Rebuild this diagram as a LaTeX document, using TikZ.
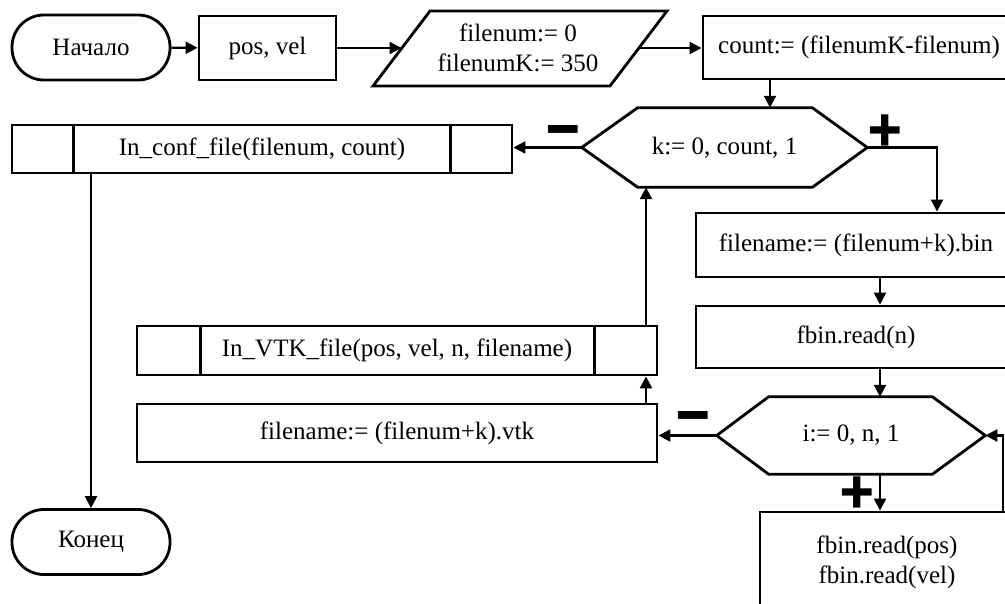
\documentclass[tikz,border=0pt]{standalone}
\usepackage{fontspec}
\setmainfont{Liberation Serif}
\newfontfamily\signfont{Noto Emoji}
\usetikzlibrary{arrows.meta,calc}

\begin{document}
\begin{tikzpicture}[x=0.025cm, y=-0.025cm,
    every node/.style={font=\fontsize{17.8}{21.3}\selectfont, inner sep=0pt},
    box/.style={draw, line width=2pt, minimum height=1.6cm},
    term/.style={box, rounded corners=0.8cm, minimum width=3.95cm, minimum height=1.625cm},
    shapeline/.style={line width=2pt, line join=miter},
    arr/.style={line width=1.7pt, -{Triangle[length=8.5pt, width=8.5pt]}},
    signlabel/.style={font=\signfont\fontsize{23}{23}\selectfont}]
    \path[use as bounding box, clip] (0,0) rectangle (1005,604);

    % Верхний ряд: начало, ввод, присваивания
    \node[term] (start) at (91,47.5) {Начало};
    \node[box, minimum width=3.425cm] (posvel) at (267.5,48) {pos, vel};
    \node[align=center] (init) at (518,48) {filenum:= 0\\filenumK:= 350};
    \draw[shapeline] ($(init)+(-145,38)$) -- ($(init)+(-88,-37)$) -- ($(init)+(149,-37)$)
        -- ($(init)+(92,38)$) -- cycle;
    \coordinate (init-w) at ($(init)+(-116.5,0)$);
    \coordinate (init-e) at ($(init)+(120.5,0)$);
    \node[box, minimum width=7.8cm, minimum height=1.575cm] (count) at (859,47.5) {count:= (filenumK-filenum)};

    % Цикл по k
    \node[minimum width=7.125cm, minimum height=1.975cm] (loopk) at (724.5,147.5) {k:= 0, count, 1};
    \draw[shapeline] (loopk.west) -- ($(loopk.north west)+(56,0)$) -- ($(loopk.north east)+(-55,0)$)
        -- (loopk.east) -- ($(loopk.south east)+(-55,0)$) -- ($(loopk.south west)+(56,0)$) -- cycle;

    % Подпрограмма записи конфигурации и конец
    \node[box, minimum width=12.5cm, minimum height=1.2cm] (inconf) at (262,149) {In\_conf\_file(filenum, count)};
    \draw[shapeline] ($(inconf.north west)+(63,0)$) -- ($(inconf.south west)+(63,0)$)
        ($(inconf.north east)+(-63,0)$) -- ($(inconf.south east)+(-63,0)$);
    \node[term] (stop) at (91,542) {Конец};

    % Тело цикла по k: чтение бинарного файла
    \node[box, minimum width=8cm] (bin) at (856,245) {filename:= (filenum+k).bin};
    \node[box, minimum width=8cm, minimum height=1.55cm] (readn) at (856,337) {fbin.read(n)};

    % Цикл по i
    \node[minimum width=6.7cm, minimum height=1.925cm] (loopi) at (851,435.5) {i:= 0, n, 1};
    \draw[shapeline] (loopi.west) -- ($(loopi.north west)+(52,0)$) -- ($(loopi.north east)+(-53,0)$)
        -- (loopi.east) -- ($(loopi.south east)+(-53,0)$) -- ($(loopi.south west)+(52,0)$) -- cycle;
    \node[box, minimum width=6.35cm, minimum height=2.5cm, align=center] (readpv) at (887,562)
        {fbin.read(pos)\\fbin.read(vel)};

    % Запись VTK
    \node[box, minimum width=13cm, minimum height=1.45cm] (vtk) at (397,433) {filename:= (filenum+k).vtk};
    \node[box, minimum width=13cm, minimum height=1.225cm] (invtk) at (397,350.5) {In\_VTK\_file(pos, vel, n, filename)};
    \draw[shapeline] ($(invtk.north west)+(65,0)$) -- ($(invtk.south west)+(65,0)$)
        ($(invtk.north east)+(-64,0)$) -- ($(invtk.south east)+(-64,0)$);

    % Метки ветвлений
    \node[signlabel] (kminus) at (563,133) {➖};
    \node[signlabel] (kplus) at (885,130) {➕};
    \node[signlabel] (iminus) at (693,419) {➖};
    \node[signlabel] (iplus) at (857,492) {➕};

    % Связи
    \coordinate (kin) at (770,0);
    \coordinate (col) at (880,0);
    \coordinate (ret) at (1003,0);
    \coordinate (back) at (646,0);
    \draw[arr] (start) -- (posvel);
    \draw[arr] (posvel) -- (init-w);
    \draw[arr] (init-e) -- (init-e -| count.west);
    \draw[arr] (kin |- count.south) -- (kin |- loopk.north);
    \draw[arr] (loopk.west) -- (loopk.west -| inconf.east);
    \draw[arr] (loopk.east) -| ($(bin.north)+(81,0)$);
    \draw[arr] (col |- bin.south) -- (col |- readn.north);
    \draw[arr] (col |- readn.south) -- (col |- loopi.north);
    \draw[arr] (col |- loopi.south) -- (col |- readpv.north);
    \draw[arr] (ret |- readpv.north) |- (loopi.east);
    \draw[arr] (loopi.west) -- (loopi.west -| vtk.east);
    \draw[arr] (back |- vtk.north) -- (back |- invtk.south);
    \draw[arr] (back |- invtk.north) -- (back |- loopk.south);
    \draw[arr] (inconf.south -| stop.north) -- (stop.north);
\end{tikzpicture}
\end{document}
